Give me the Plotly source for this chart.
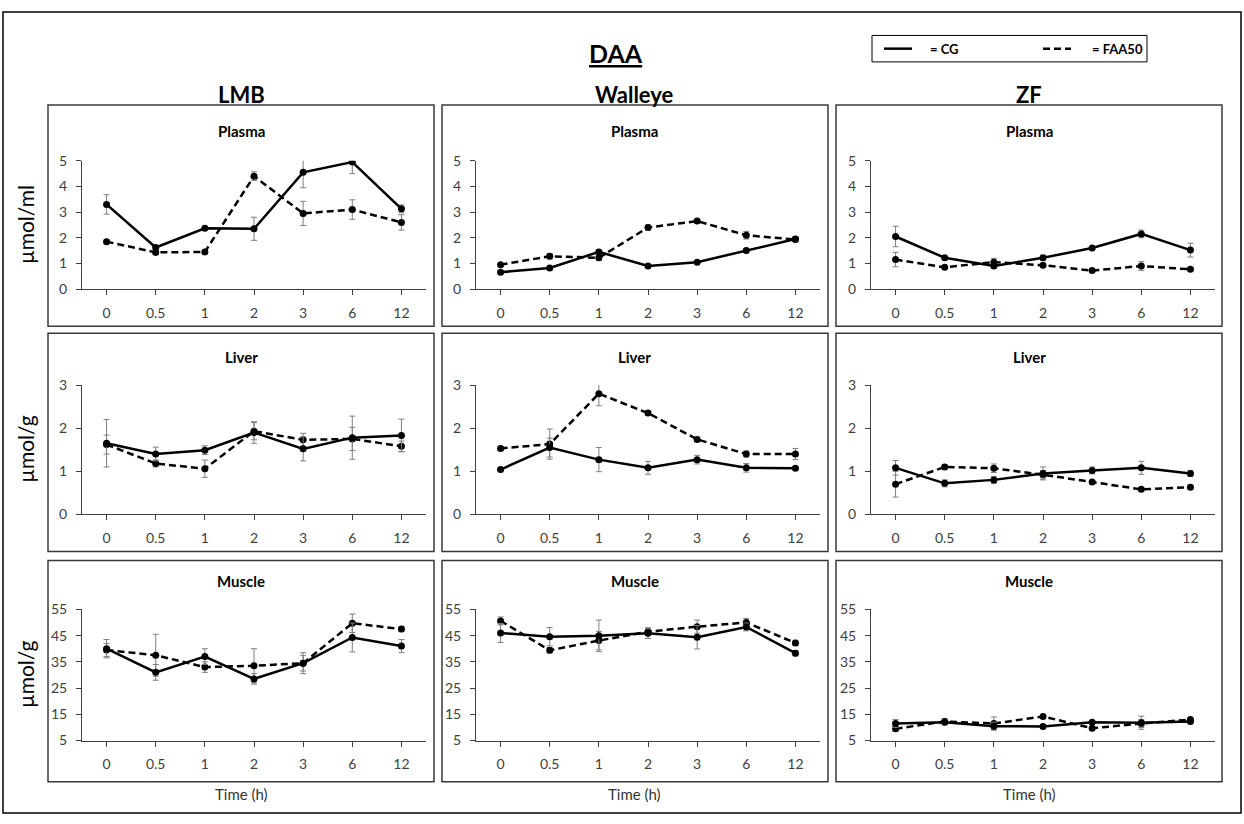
import plotly.graph_objects as go

W, H = 1244, 824

TIMES = ["0", "0.5", "1", "2", "3", "6", "12"]
SPECIES = ["LMB", "Walleye", "ZF"]
TISSUES = ["Plasma", "Liver", "Muscle"]
UNITS = ["µmol/ml", "µmol/g", "µmol/g"]
Y_TICKS = [[0, 1, 2, 3, 4, 5], [0, 1, 2, 3], [5, 15, 25, 35, 45, 55]]
Y_RANGES = [[0, 5], [0, 3], [5, 55]]

# ---- Plasma ----
LMB_PLASMA_CG = [3.3, 1.62, 2.37, 2.35, 4.55, 4.95, 3.13]
LMB_PLASMA_CG_ERR = [0.38, 0.06, 0.05, 0.45, 0.6, 0.45, 0.15]
LMB_PLASMA_FAA = [1.85, 1.43, 1.45, 4.4, 2.95, 3.1, 2.6]
LMB_PLASMA_FAA_ERR = [0.06, 0.08, 0.05, 0.17, 0.47, 0.38, 0.3]

WAL_PLASMA_CG = [0.66, 0.82, 1.45, 0.9, 1.05, 1.5, 1.95]
WAL_PLASMA_CG_ERR = [0.04, 0.05, 0.08, 0.05, 0.05, 0.08, 0.1]
WAL_PLASMA_FAA = [0.95, 1.28, 1.22, 2.4, 2.65, 2.1, 1.93]
WAL_PLASMA_FAA_ERR = [0.05, 0.1, 0.1, 0.1, 0.08, 0.15, 0.08]

ZF_PLASMA_CG = [2.05, 1.22, 0.9, 1.22, 1.6, 2.15, 1.52]
ZF_PLASMA_CG_ERR = [0.4, 0.05, 0.07, 0.1, 0.05, 0.15, 0.27]
ZF_PLASMA_FAA = [1.15, 0.85, 1.05, 0.93, 0.72, 0.9, 0.77]
ZF_PLASMA_FAA_ERR = [0.28, 0.05, 0.15, 0.05, 0.05, 0.17, 0.05]

# ---- Liver ----
LMB_LIVER_CG = [1.65, 1.4, 1.49, 1.9, 1.52, 1.78, 1.83]
LMB_LIVER_CG_ERR = [0.55, 0.16, 0.1, 0.25, 0.28, 0.5, 0.38]
LMB_LIVER_FAA = [1.62, 1.18, 1.06, 1.93, 1.73, 1.75, 1.58]
LMB_LIVER_FAA_ERR = [0.22, 0.08, 0.2, 0.2, 0.15, 0.27, 0.12]

WAL_LIVER_CG = [1.04, 1.55, 1.27, 1.08, 1.27, 1.08, 1.07]
WAL_LIVER_CG_ERR = [0.03, 0.22, 0.28, 0.15, 0.1, 0.1, 0.04]
WAL_LIVER_FAA = [1.53, 1.63, 2.8, 2.35, 1.74, 1.4, 1.4]
WAL_LIVER_FAA_ERR = [0.05, 0.35, 0.28, 0.05, 0.05, 0.07, 0.13]

ZF_LIVER_CG = [1.08, 0.72, 0.8, 0.95, 1.02, 1.08, 0.95]
ZF_LIVER_CG_ERR = [0.17, 0.08, 0.08, 0.15, 0.08, 0.15, 0.07]
ZF_LIVER_FAA = [0.7, 1.1, 1.07, 0.92, 0.75, 0.58, 0.63]
ZF_LIVER_FAA_ERR = [0.3, 0.05, 0.1, 0.1, 0.03, 0.03, 0.05]

# ---- Muscle ----
LMB_MUSCLE_CG = [40.0, 31.0, 37.0, 28.5, 34.5, 44.3, 41.0]
LMB_MUSCLE_CG_ERR = [3.5, 3.0, 3.0, 2.0, 4.0, 5.5, 2.5]
LMB_MUSCLE_FAA = [39.5, 37.5, 33.0, 33.5, 34.5, 49.7, 47.5]
LMB_MUSCLE_FAA_ERR = [2.5, 8.0, 2.0, 6.5, 3.0, 3.5, 1.0]

WAL_MUSCLE_CG = [46.0, 44.6, 44.9, 45.9, 44.4, 48.3, 38.3]
WAL_MUSCLE_CG_ERR = [3.6, 3.5, 6.0, 2.0, 4.5, 1.5, 1.0]
WAL_MUSCLE_FAA = [50.6, 39.4, 43.1, 46.5, 48.4, 50.0, 42.2]
WAL_MUSCLE_FAA_ERR = [1.5, 1.0, 3.5, 1.5, 2.5, 1.5, 1.0]

ZF_MUSCLE_CG = [11.5, 12.0, 10.5, 10.4, 12.0, 11.8, 12.3]
ZF_MUSCLE_CG_ERR = [1.5, 1.0, 1.5, 0.5, 0.5, 2.5, 0.5]
ZF_MUSCLE_FAA = [9.5, 12.3, 11.5, 14.2, 9.7, 11.5, 13.0]
ZF_MUSCLE_FAA_ERR = [1.0, 1.0, 2.5, 0.5, 0.5, 1.5, 0.5]

PANELS = [
    [(LMB_PLASMA_CG, LMB_PLASMA_CG_ERR, LMB_PLASMA_FAA, LMB_PLASMA_FAA_ERR),
     (WAL_PLASMA_CG, WAL_PLASMA_CG_ERR, WAL_PLASMA_FAA, WAL_PLASMA_FAA_ERR),
     (ZF_PLASMA_CG, ZF_PLASMA_CG_ERR, ZF_PLASMA_FAA, ZF_PLASMA_FAA_ERR)],
    [(LMB_LIVER_CG, LMB_LIVER_CG_ERR, LMB_LIVER_FAA, LMB_LIVER_FAA_ERR),
     (WAL_LIVER_CG, WAL_LIVER_CG_ERR, WAL_LIVER_FAA, WAL_LIVER_FAA_ERR),
     (ZF_LIVER_CG, ZF_LIVER_CG_ERR, ZF_LIVER_FAA, ZF_LIVER_FAA_ERR)],
    [(LMB_MUSCLE_CG, LMB_MUSCLE_CG_ERR, LMB_MUSCLE_FAA, LMB_MUSCLE_FAA_ERR),
     (WAL_MUSCLE_CG, WAL_MUSCLE_CG_ERR, WAL_MUSCLE_FAA, WAL_MUSCLE_FAA_ERR),
     (ZF_MUSCLE_CG, ZF_MUSCLE_CG_ERR, ZF_MUSCLE_FAA, ZF_MUSCLE_FAA_ERR)],
]

FONT = "Lato, 'Open Sans', sans-serif"
TICK_COLOR = "#404040"
ERR_COLOR = "#7f7f7f"

# layout geometry in pixels
BOX_X = [(48, 434), (442, 828), (836, 1222)]
BOX_Y = [(98, 324), (331, 554), (563, 789)]
PLOT_X = [(82, 426), (476, 820), (871, 1215)]
PLOT_Y = [(155, 286), (384, 516), (613, 747)]
TITLE_Y = [125, 355, 584]


def xp(px):
    return px / W


def yp(py):
    return 1 - py / H


fig = go.Figure()
layout = {}

for r in range(3):
    for c in range(3):
        idx = r * 3 + c + 1
        xa = "x" if idx == 1 else f"x{idx}"
        ya = "y" if idx == 1 else f"y{idx}"
        cg, cg_err, faa, faa_err = PANELS[r][c]
        fig.add_trace(go.Scatter(
            x=TIMES, y=faa, xaxis=xa, yaxis=ya, mode="lines+markers",
            name="FAA50", showlegend=False,
            line=dict(color="black", width=2.5, dash="7px,4px"),
            marker=dict(color="black", size=7),
            error_y=dict(type="data", array=faa_err, visible=True,
                         color=ERR_COLOR, thickness=1, width=3),
        ))
        fig.add_trace(go.Scatter(
            x=TIMES, y=cg, xaxis=xa, yaxis=ya, mode="lines+markers",
            name="CG", showlegend=False,
            line=dict(color="black", width=2.5),
            marker=dict(color="black", size=7),
            error_y=dict(type="data", array=cg_err, visible=True,
                         color=ERR_COLOR, thickness=1, width=3),
        ))
        xkey = "xaxis" if idx == 1 else f"xaxis{idx}"
        ykey = "yaxis" if idx == 1 else f"yaxis{idx}"
        layout[xkey] = dict(
            domain=[xp(PLOT_X[c][0]), xp(PLOT_X[c][1])],
            anchor=ya, type="category", categoryorder="array",
            categoryarray=TIMES, range=[-0.5, 6.5],
            showline=True, linecolor=TICK_COLOR, linewidth=1,
            ticks="outside", ticklen=5, tickcolor=TICK_COLOR,
            showgrid=False, zeroline=False, ticklabelstandoff=6,
            tickfont=dict(family=FONT, size=14, color="#404040"),
        )
        layout[ykey] = dict(
            domain=[yp(PLOT_Y[r][1]), yp(PLOT_Y[r][0])],
            anchor=xa, range=Y_RANGES[r], tickvals=Y_TICKS[r],
            showline=True, linecolor=TICK_COLOR, linewidth=1,
            ticks="outside", ticklen=5, tickcolor=TICK_COLOR,
            showgrid=False, zeroline=False, ticklabelstandoff=6,
            tickfont=dict(family=FONT, size=14, color="#404040"),
        )

shapes = []
annotations = []

# outer border
shapes.append(dict(type="rect", xref="paper", yref="paper",
                   x0=xp(3), x1=xp(1241), y0=yp(821), y1=yp(3),
                   line=dict(color="black", width=1.5)))

for r in range(3):
    for c in range(3):
        shapes.append(dict(type="rect", xref="paper", yref="paper",
                           x0=xp(BOX_X[c][0]), x1=xp(BOX_X[c][1]),
                           y0=yp(BOX_Y[r][1]), y1=yp(BOX_Y[r][0]),
                           line=dict(color="#3a3a3a", width=1.5)))
        annotations.append(dict(
            text=f"<b>{TISSUES[r]}</b>", xref="paper", yref="paper",
            x=xp((BOX_X[c][0] + BOX_X[c][1]) / 2), y=yp(TITLE_Y[r]),
            showarrow=False, xanchor="center", yanchor="middle",
            font=dict(family=FONT, size=15, color="black")))

for c in range(3):
    annotations.append(dict(
        text=f"<b>{SPECIES[c]}</b>", xref="paper", yref="paper",
        x=xp((BOX_X[c][0] + BOX_X[c][1]) / 2), y=yp(87),
        showarrow=False, xanchor="center", yanchor="middle",
        font=dict(family=FONT, size=22, color="black")))
    annotations.append(dict(
        text="Time (h)", xref="paper", yref="paper",
        x=xp((BOX_X[c][0] + BOX_X[c][1]) / 2), y=yp(802),
        showarrow=False, xanchor="center", yanchor="middle",
        font=dict(family=FONT, size=15, color="#333333")))

for r in range(3):
    annotations.append(dict(
        text=UNITS[r], xref="paper", yref="paper",
        x=xp(26), y=yp((PLOT_Y[r][0] + PLOT_Y[r][1]) / 2),
        showarrow=False, textangle=-90, xanchor="center", yanchor="middle",
        font=dict(family=FONT, size=21, color="black")))

# main title
annotations.append(dict(
    text="<b><u>DAA</u></b>", xref="paper", yref="paper",
    x=xp(616), y=yp(45), showarrow=False, xanchor="center", yanchor="middle",
    font=dict(family=FONT, size=25, color="black")))

# legend box
shapes.append(dict(type="rect", xref="paper", yref="paper",
                   x0=xp(872), x1=xp(1147), y0=yp(54), y1=yp(27),
                   line=dict(color="black", width=1)))
shapes.append(dict(type="line", xref="paper", yref="paper",
                   x0=xp(884), x1=xp(912), y0=yp(40.5), y1=yp(40.5),
                   line=dict(color="black", width=2.5)))
shapes.append(dict(type="line", xref="paper", yref="paper",
                   x0=xp(1043), x1=xp(1071), y0=yp(40.5), y1=yp(40.5),
                   line=dict(color="black", width=2.5, dash="7px,4px")))
annotations.append(dict(
    text="<b>= CG</b>", xref="paper", yref="paper", x=xp(928), y=yp(40.5),
    showarrow=False, xanchor="left", yanchor="middle",
    font=dict(family=FONT, size=13, color="black")))
annotations.append(dict(
    text="<b>= FAA50</b>", xref="paper", yref="paper", x=xp(1090), y=yp(40.5),
    showarrow=False, xanchor="left", yanchor="middle",
    font=dict(family=FONT, size=13, color="black")))

fig.update_layout(
    width=W, height=H, margin=dict(l=0, r=0, t=0, b=0),
    paper_bgcolor="white", plot_bgcolor="white",
    showlegend=False, shapes=shapes, annotations=annotations,
    font=dict(family=FONT),
    **layout,
)

fig.write_html("out.html")
